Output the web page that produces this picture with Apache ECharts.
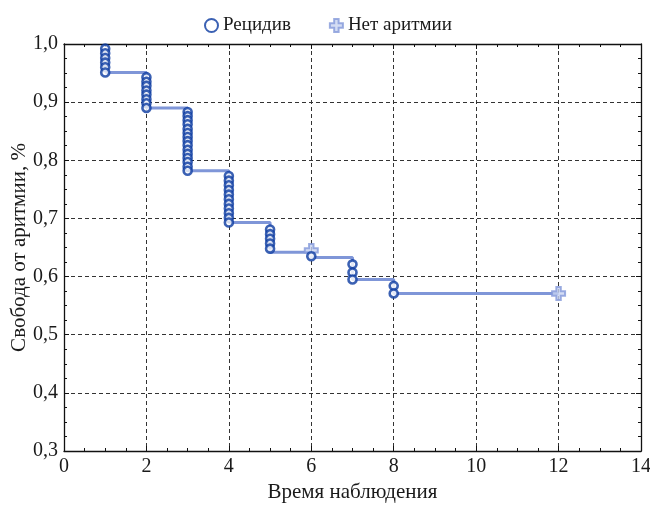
<!DOCTYPE html>
<html>
<head>
<meta charset="utf-8">
<script src="https://cdn.jsdelivr.net/npm/echarts@6/dist/echarts.min.js"></script>
<style>
  html, body { margin: 0; padding: 0; background: #fff; }
  #chart { width: 650px; height: 505px; }
</style>
</head>
<body>
<div id="chart"></div>
<script>
// события (рецидивы) по времени наблюдения
const relapseX = [
  1, 1, 1, 1, 1, 1,
  2, 2, 2, 2, 2, 2, 2, 2,
  3, 3, 3, 3, 3, 3, 3, 3, 3, 3, 3, 3, 3, 3, 3,
  4, 4, 4, 4, 4, 4, 4, 4, 4, 4, 4,
  5, 5, 5, 5, 5,
  6,
  7, 7, 7,
  8, 8
];
const relapseY = [
  0.992, 0.984, 0.976, 0.968, 0.960, 0.951,
  0.943, 0.935, 0.928, 0.920, 0.913, 0.905, 0.898, 0.890,
  0.883, 0.876, 0.869, 0.862, 0.854, 0.847, 0.840, 0.833, 0.826, 0.818, 0.811, 0.804, 0.797, 0.789, 0.782,
  0.773, 0.765, 0.757, 0.749, 0.741, 0.733, 0.725, 0.717, 0.709, 0.701, 0.693,
  0.681, 0.673, 0.665, 0.657, 0.648,
  0.635,
  0.621, 0.607, 0.595,
  0.584, 0.571
];
// цензурированные наблюдения (нет аритмии)
const censorX = [6, 12];
const censorY = [0.645, 0.571];
// ступенчатая кривая Каплана-Мейера
const stepX = [1, 2, 3, 4, 5, 6, 7, 8, 12];
const stepY = [0.951, 0.890, 0.782, 0.693, 0.642, 0.633, 0.595, 0.571, 0.571];

const xTicks = [0, 2, 4, 6, 8, 10, 12, 14];
const yTicks = [0.3, 0.4, 0.5, 0.6, 0.7, 0.8, 0.9, 1.0];

const serif = 'Liberation Serif';
const plusPath = 'path://M3.3,0 H6.7 V3.3 H10 V6.7 H6.7 V10 H3.3 V6.7 H0 V3.3 H3.3 Z';

const chart = echarts.init(document.getElementById('chart'));

const tickStyle = { color: '#111', width: 1 };
const baseX = {
  type: 'value',
  min: xTicks[0],
  max: xTicks[xTicks.length - 1],
  interval: 2,
  axisLine: { show: true, onZero: false, lineStyle: { color: '#111', width: 1.3 } },
  axisTick: { show: true, inside: true, length: 5, lineStyle: tickStyle },
  minorTick: { show: true, splitNumber: 4, length: 3, lineStyle: tickStyle }
};
const baseY = {
  type: 'value',
  min: yTicks[0],
  max: yTicks[yTicks.length - 1],
  interval: 0.1,
  axisLine: { show: true, onZero: false, lineStyle: { color: '#111', width: 1.3 } },
  axisTick: { show: true, inside: true, length: 5, lineStyle: tickStyle },
  minorTick: { show: true, splitNumber: 4, length: 3, lineStyle: tickStyle }
};

const option = {
  animation: false,
  backgroundColor: '#fff',
  textStyle: { fontFamily: serif },
  grid: { left: 64, right: 9, top: 44, bottom: 54, containLabel: false, outerBoundsMode: 'none' },
  legend: {
    left: 199,
    top: 11,
    itemGap: 38,
    itemWidth: 13,
    itemHeight: 13,
    textStyle: { fontFamily: serif, fontSize: 19, color: '#1a1a1a' },
    data: [
      { name: 'Рецидив', icon: 'circle' },
      { name: 'Нет аритмии', icon: plusPath }
    ]
  },
  xAxis: [
    Object.assign({}, baseX, {
      position: 'bottom',
      name: 'Время наблюдения',
      nameLocation: 'middle',
      nameGap: 31,
      nameMoveOverlap: false,
      nameTextStyle: { fontFamily: serif, fontSize: 21, color: '#1a1a1a' },
      axisLabel: { margin: 6, fontFamily: serif, fontSize: 20, color: '#1a1a1a' },
      splitLine: { show: true, lineStyle: { type: [4, 3], color: '#333', width: 1 } }
    }),
    Object.assign({}, baseX, {
      position: 'top',
      axisLabel: { show: false },
      splitLine: { show: false }
    })
  ],
  yAxis: [
    Object.assign({}, baseY, {
      position: 'left',
      name: 'Свобода от аритмии, %',
      nameLocation: 'middle',
      nameGap: 34,
      nameMoveOverlap: false,
      nameTextStyle: { fontFamily: serif, fontSize: 21, color: '#1a1a1a' },
      axisLabel: {
        margin: 6, fontFamily: serif, fontSize: 20, color: '#1a1a1a',
        formatter: v => v.toFixed(1).replace('.', ',')
      },
      splitLine: { show: true, lineStyle: { type: [4, 3], color: '#333', width: 1 } }
    }),
    Object.assign({}, baseY, {
      position: 'right',
      axisLabel: { show: false },
      splitLine: { show: false }
    })
  ],
  series: [
    {
      name: 'curve',
      type: 'line',
      step: 'end',
      data: stepX.map((x, i) => [x, stepY[i]]),
      showSymbol: false,
      symbol: 'none',
      lineStyle: { color: '#7f96d8', width: 3 },
      z: 2
    },
    {
      name: 'Нет аритмии',
      type: 'scatter',
      data: censorX.map((x, i) => [x, censorY[i]]),
      symbol: plusPath,
      symbolSize: 13,
      itemStyle: { color: '#c9d4f1', borderColor: '#8399da', borderWidth: 2 },
      z: 3
    },
    {
      name: 'Рецидив',
      type: 'scatter',
      data: relapseX.map((x, i) => [x, relapseY[i]]),
      symbol: 'circle',
      symbolSize: 8,
      itemStyle: { color: '#ffffff', borderColor: '#0a3aa0', borderWidth: 2.6 },
      z: 4
    }
  ]
};

chart.setOption(option);
</script>
</body>
</html>
